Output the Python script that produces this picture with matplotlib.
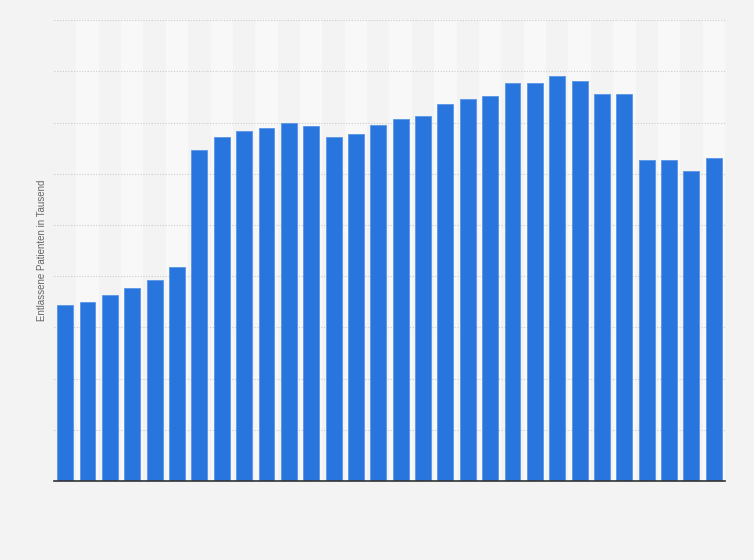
import numpy as np
import matplotlib
matplotlib.use("Agg")
import matplotlib.pyplot as plt

# values (thousands, tick labels hidden in the reference)
years = list(range(1991, 2021))
patients = [171.9, 174.8, 181.6, 188.5, 196.3, 209.0, 323.2, 335.9, 341.8, 344.7,
            349.6, 346.7, 335.9, 338.9, 347.7, 353.5, 356.4, 368.2, 373.0, 376.0,
            388.7, 388.7, 395.5, 390.6, 377.9, 377.9, 313.5, 313.5, 302.7, 315.4]
y_ticks = [0, 50, 100, 150, 200, 250, 300, 350, 400, 450]

fig = plt.figure(figsize=(7.54, 5.6), dpi=100)
fig.patch.set_facecolor("#f3f3f3")
ax = fig.add_axes([0.0716, 0.141, 0.8899, 0.823])
ax.set_facecolor("#f3f3f3")

x = np.arange(len(years))
# alternating column stripes
for i in x:
    if i % 2 == 1:
        ax.axvspan(i - 0.5, i + 0.5, color="#f8f8f8", zorder=0, lw=0)

ax.bar(x, patients, width=0.71, color="#2876dd", edgecolor="#5b95e6",
       linewidth=0.6, zorder=3)

ax.set_xlim(-0.5, len(years) - 0.5)
ax.set_ylim(0, 450)
ax.set_yticks(y_ticks)
ax.yaxis.grid(True, color="#cccccc", ls=(0, (1, 1.5)), lw=0.8, zorder=1)
ax.tick_params(left=False, bottom=False, labelleft=False, labelbottom=False)
for s in ["top", "right", "left"]:
    ax.spines[s].set_visible(False)
ax.spines["bottom"].set_color("#333333")
ax.spines["bottom"].set_linewidth(1.2)
ax.spines["bottom"].set_zorder(4)

ax.set_ylabel("Entlassene Patienten in Tausend", fontsize=7, color="#666666",
              family="Liberation Sans", labelpad=5)

fig.savefig("out.png", dpi=100, facecolor=fig.get_facecolor())
